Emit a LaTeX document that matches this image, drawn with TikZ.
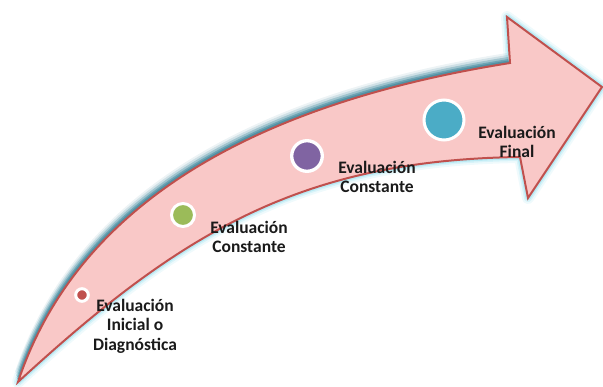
\documentclass[tikz,border=0pt]{standalone}
\usepackage{fontspec}
\setmainfont{Carlito}
\definecolor{arrowfill}{HTML}{F9C8C7}
\definecolor{arrowline}{HTML}{C0504D}
\definecolor{shadowc}{HTML}{4A8A9E}
\definecolor{glowc}{HTML}{94DFEE}
\definecolor{dotred}{HTML}{C0504D}
\definecolor{dotgreen}{HTML}{9BBB59}
\definecolor{dotpurple}{HTML}{8064A2}
\definecolor{dotteal}{HTML}{4BACC6}
\definecolor{txt}{HTML}{1A1A1A}
\tikzset{
  dot/.style={circle, draw=white, inner sep=0pt},
  lbl/.style={align=center, text=txt, inner sep=0pt,
    font=\fontsize{17.5}{19.5}\selectfont\bfseries},
}
\begin{document}
\begin{tikzpicture}[x=1pt,y=-1pt]
\useasboundingbox (0,0) rectangle (603,387);
% outer glow
\foreach \w/\op in {12/0.15, 8/0.25, 5/0.45}
  \draw[glowc, line width=\w pt, opacity=\op, line join=round]
    (18,382) .. controls (78,202) and (258,103) .. (510,63) -- (507,17) -- (602,87)
    -- (528,198) -- (520,157) .. controls (300,160) and (180,233) .. (18,382) -- cycle;
% shadow above the shaft
\foreach \dx/\dy/\op in {-3/-10/0.1, -2.5/-8/0.18, -2/-6/0.3, -1.5/-4/0.5, -1/-2.5/0.7}
  \fill[shadowc, opacity=\op, shift={(\dx,\dy)}]
    (18,382) .. controls (78,202) and (258,103) .. (510,63) -- (520,157)
    .. controls (300,160) and (180,233) .. (18,382) -- cycle;
% arrow body
\filldraw[fill=arrowfill, draw=arrowline, line width=2pt, line join=miter]
  (18,382) .. controls (78,202) and (258,103) .. (510,63) -- (507,17) -- (602,87)
  -- (528,198) -- (520,157) .. controls (300,160) and (180,233) .. (18,382) -- cycle;
% dots
\node[dot, fill=dotred, line width=3pt, minimum size=12.6pt] (d1) at (82,295) {};
\node[dot, fill=dotgreen, line width=3pt, minimum size=23pt] (d2) at (183,215) {};
\node[dot, fill=dotpurple, line width=3.3pt, minimum size=30.6pt] (d3) at (307,156) {};
\node[dot, fill=dotteal, line width=3pt, minimum size=40pt] (d4) at (444,120) {};
% labels
\node[lbl] (l1) at (135,326) {Evaluación\\Inicial o\\Diagnóstica};
\node[lbl] (l2) at (249,237) {Evaluación\\Constante};
\node[lbl] (l3) at (377,177) {Evaluación\\Constante};
\node[lbl] (l4) at (517,142) {Evaluación\\Final};
\end{tikzpicture}
\end{document}
